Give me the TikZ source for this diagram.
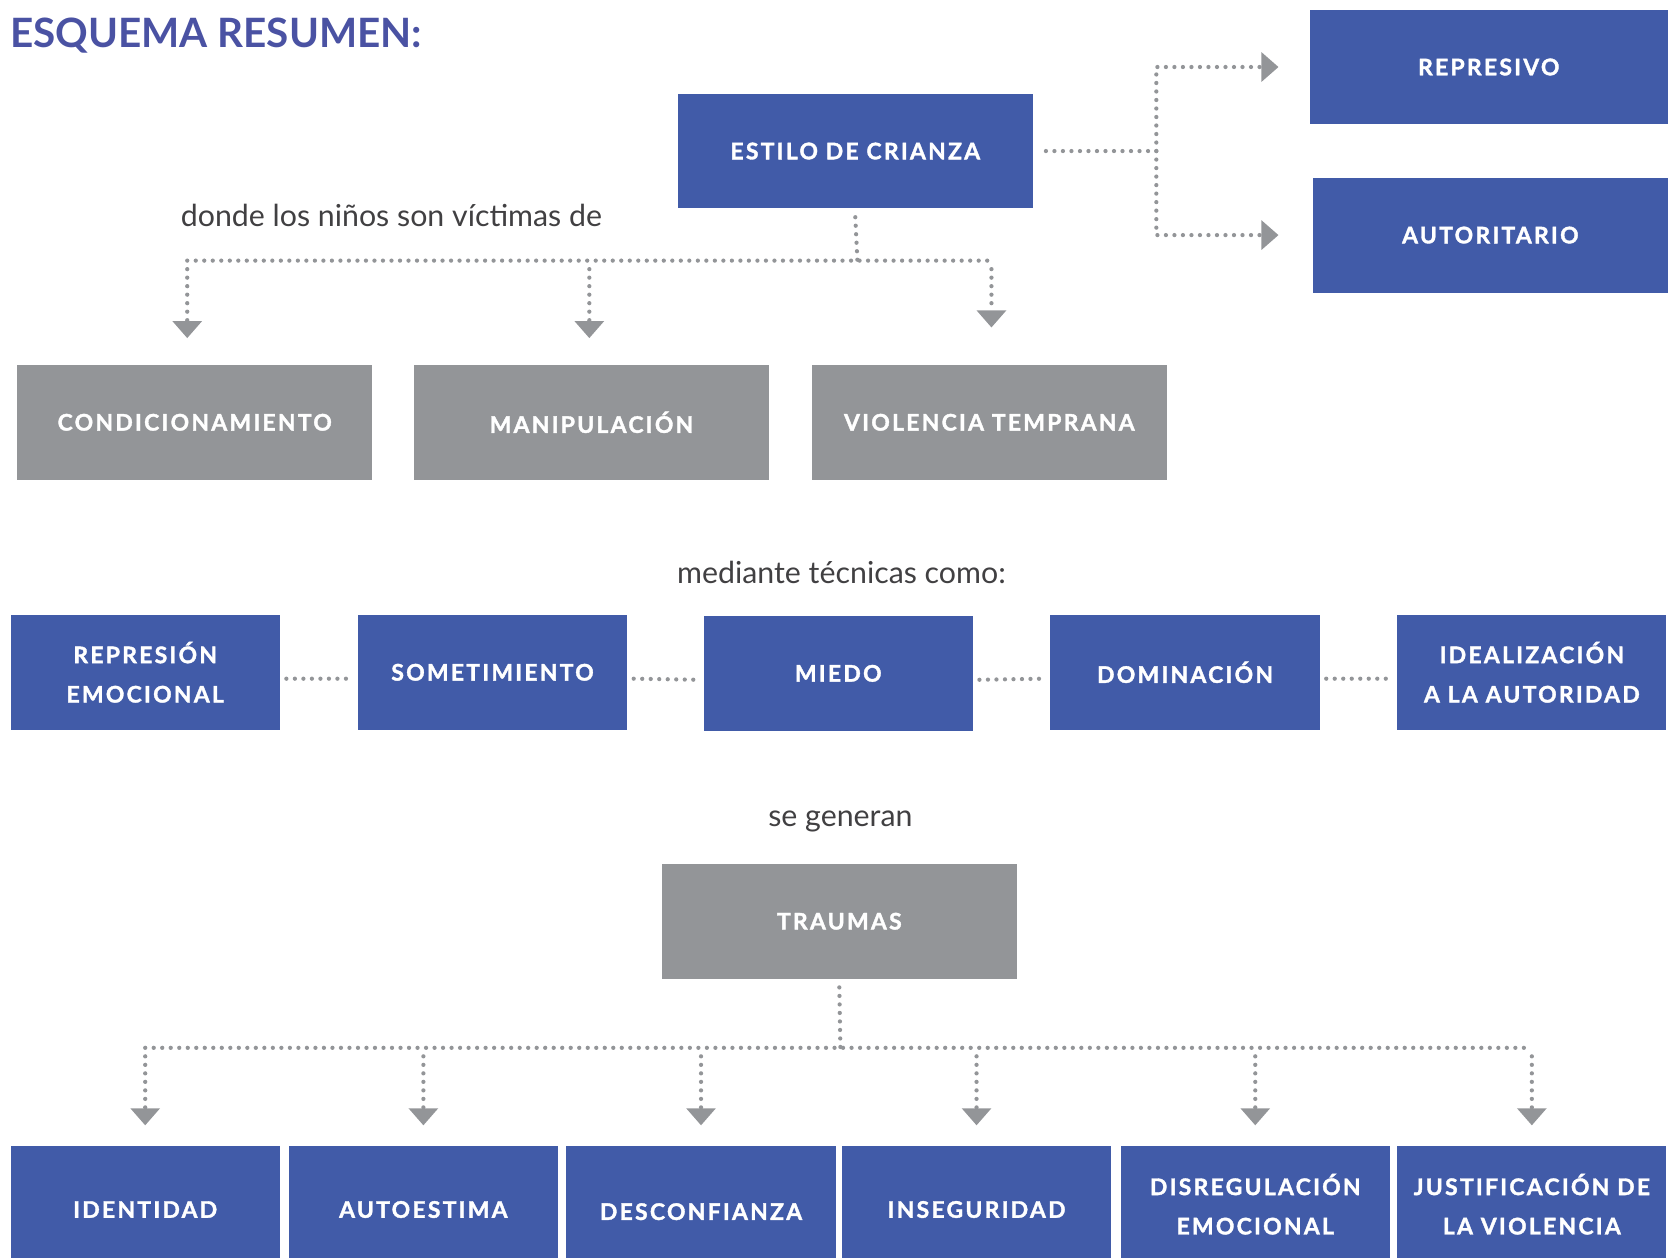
\documentclass[tikz,border=0pt]{standalone}
\usepackage{fontspec}
\setmainfont{Lato}
\newfontfamily\cajafont{Lato}[LetterSpace=10, BoldFeatures={FakeBold=1.6}]
\usetikzlibrary{arrows.meta,positioning}

\definecolor{azul}{HTML}{415BA8}
\definecolor{titulo}{HTML}{4A52A3}
\definecolor{gris}{HTML}{939598}
\definecolor{texto}{HTML}{414042}

\tikzset{
  caja/.style={fill=azul, minimum width=253pt, minimum height=108pt, inner sep=0pt,
    text=white, align=center, font=\cajafont\bfseries\fontsize{21.5}{37}\selectfont},
  cajagris/.style={caja, fill=gris, minimum width=334pt},
  puntos/.style={draw=gris, line width=4pt, line cap=round, dash pattern=on 0pt off 8pt},
  flecha/.style={puntos, -{Triangle[width=28pt,length=16pt,line width=0pt,fill=gris]}},
  nota/.style={text=texto, font=\fontsize{28.5}{32}\selectfont},
}

\begin{document}
\begin{tikzpicture}[x=1pt,y=-1pt]
    \useasboundingbox (0,0) rectangle (1568,1182);

    % Titulo
    \node[anchor=west, text=titulo, font=\bfseries\fontsize{38}{38}\selectfont] (tit) at (6,33) {ESQUEMA RESUMEN:};

    % Estilo de crianza
    \node[caja, minimum width=334pt] (estilo) at (804,142) {ESTILO DE CRIANZA};
    \node[caja, minimum width=337pt] (represivo) at (1399.5,63) {REPRESIVO};
    \node[caja, minimum width=334pt] (autoritario) at (1401,221) {AUTORITARIO};

    \coordinate (rama) at (1087,142);
    \draw[puntos] ([xshift=12pt]estilo.east) -- (rama);
    \draw[flecha] (rama) |- ([xshift=-29pt]represivo.west);
    \draw[flecha] (rama) |- ([xshift=-32pt]autoritario.west);

    % Victimas de
    \node[nota] (donde) at (368,203) {donde los niños son víctimas de};

    \node[cajagris] (cond) at (183,397) {CONDICIONAMIENTO};
    \node[cajagris] (manip) at (556,397) {MANIPULACIÓN};
    \node[cajagris] (viol) at (930,397) {VIOLENCIA TEMPRANA};

    \coordinate (busA) at (806,245);
    \draw[puntos] ([yshift=-8pt]estilo.south) -- (busA);
    \draw[puntos] ([xshift=-7pt]busA -| cond) -- ([xshift=2pt]busA -| viol);
    \foreach \n/\dx/\dy in {cond/-7/25, manip/-2/25, viol/2/35}
        \draw[flecha] ([shift={(\dx pt,-8pt)}]busA -| \n) -- ([shift={(\dx pt,\dy pt)}]\n.north);

    % Tecnicas
    \node[nota] (mediante) at (791,538) {mediante técnicas como:};

    \node[caja] (represion) at (136.5,632) {REPRESIÓN\\EMOCIONAL};
    \node[caja] (somet) at (463,632) {SOMETIMIENTO};
    \node[caja] (miedo) at (788,633) {MIEDO};
    \node[caja] (domin) at (1114,632) {DOMINACIÓN};
    \node[caja] (ideal) at (1440,632) {IDEALIZACIÓN\\A LA AUTORIDAD};

    \foreach \a/\b in {represion/somet, somet/miedo, miedo/domin, domin/ideal}
        \draw[puntos] ([shift={(6pt,-6pt)}]\a.east) -- ([shift={(-6pt,-6pt)}]\b.west);

    % Traumas
    \node[nota] (generan) at (790,772) {se generan};
    \node[cajagris] (traumas) at (789,866) {TRAUMAS};

    \node[caja, minimum height=120pt] (ident) at (136.5,1137) {IDENTIDAD};
    \node[caja, minimum height=120pt] (autoest) at (398,1137) {AUTOESTIMA};
    \node[caja, minimum height=124pt] (desconf) at (659,1139) {DESCONFIANZA};
    \node[caja, minimum height=120pt] (inseg) at (918,1137) {INSEGURIDAD};
    \node[caja, minimum height=110pt] (disreg) at (1180,1132) {DISREGULACIÓN\\EMOCIONAL};
    \node[caja, minimum height=110pt] (justif) at (1440,1132) {JUSTIFICACIÓN DE\\LA VIOLENCIA};

    \coordinate (busB) at (790,985);
    \draw[puntos] ([yshift=-8pt]traumas.south) -- (busB);
    \draw[puntos] (busB -| ident) -- (busB -| justif);
    \foreach \n in {ident,autoest,desconf,inseg,disreg,justif}
        \draw[flecha] ([yshift=-8pt]busB -| \n) -- ([yshift=19pt]\n.north);

\end{tikzpicture}
\end{document}
